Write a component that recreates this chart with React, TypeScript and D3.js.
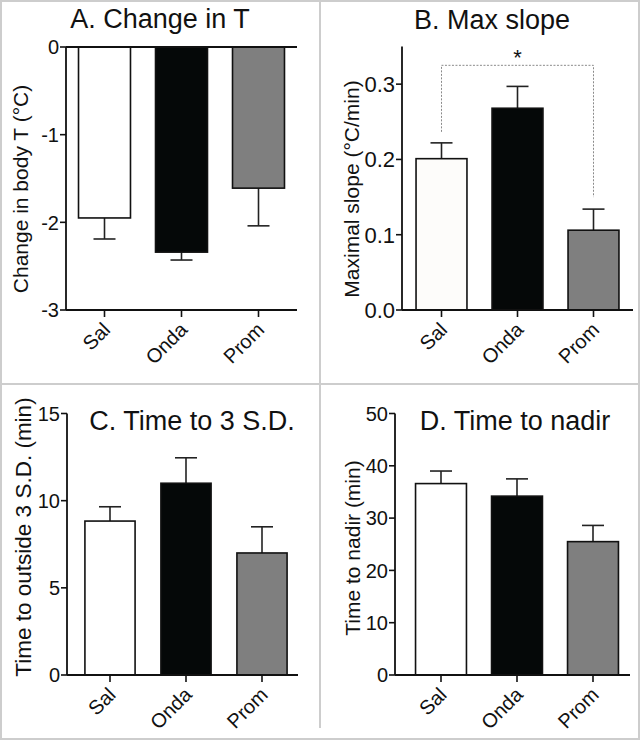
import * as d3 from 'd3';

// ── Data ────────────────────────────────────────────────
const groups = ['Sal', 'Onda', 'Prom'];
const fills = ['#ffffff', '#050808', '#7f7f7f'];

const changeT = [-1.95, -2.34, -1.61];
const changeTErr = [0.24, 0.09, 0.43];

const maxSlope = [0.201, 0.268, 0.106];
const maxSlopeErr = [0.021, 0.029, 0.028];

const time3SD = [8.83, 11.0, 7.0];
const time3SDErr = [0.82, 1.46, 1.5];

const timeNadir = [36.6, 34.2, 25.5];
const timeNadirErr = [2.4, 3.3, 3.1];

const ticksA = [0, -1, -2, -3];
const ticksB = [0, 0.1, 0.2, 0.3];
const ticksC = [0, 5, 10, 15];
const ticksD = [0, 10, 20, 30, 40, 50];

const FONT = '"Liberation Sans", Arial, Helvetica, sans-serif';

interface PanelProps {
  title: string;
  titleX: number;
  titleY: number;
  yLabel: string;
  yLabelX: number;
  yLabelY: number;
  yLabelSize: number;
  values: number[];
  errors: number[];
  domain: [number, number];
  yRange: [number, number];
  ticks: number[];
  tickFmt: (d: number) => string;
  tickSize: number;
  axisX: number;
  axisEnd: number;
  band: [number, number];
  padInner: number;
  zeroLine?: boolean;
  sig?: boolean;
}

function Panel(p: PanelProps) {
  const y = d3.scaleLinear().domain(p.domain).range(p.yRange);
  const x = d3.scaleBand<string>().domain(groups).range(p.band)
    .paddingInner(p.padInner).paddingOuter(p.padInner / 2);
  const bottom = p.yRange[0];
  const top = p.yRange[1];
  const y0 = y(0);
  const bw = x.bandwidth();
  const cap = 11;

  return (
    <g fontFamily={FONT} fill="#111">
      <text x={p.titleX} y={p.titleY} fontSize={27} textAnchor="middle">{p.title}</text>
      <text transform={`translate(${p.yLabelX},${p.yLabelY}) rotate(-90)`} fontSize={p.yLabelSize} textAnchor="middle">{p.yLabel}</text>

      {/* bars */}
      {groups.map((g, i) => {
        const v = p.values[i];
        const e = p.errors[i];
        const cx = x(g)! + bw / 2;
        const yv = y(v);
        const ye = y(v < 0 ? v - e : v + e);
        return (
          <g key={g}>
            <line x1={cx} x2={cx} y1={yv} y2={ye} stroke="#222" strokeWidth={1.6} />
            <line x1={cx - cap} x2={cx + cap} y1={ye} y2={ye} stroke="#222" strokeWidth={1.6} />
            <rect x={x(g)!} y={Math.min(yv, y0)} width={bw} height={Math.abs(yv - y0)}
              fill={p.sig && i === 0 ? '#fdfcfa' : fills[i]} stroke="#111" strokeWidth={1.6} />
          </g>
        );
      })}

      {/* y axis */}
      <line x1={p.axisX} x2={p.axisX} y1={top} y2={bottom} stroke="#111" strokeWidth={1.8} />
      {p.ticks.map(t => (
        <g key={t}>
          <line x1={p.axisX - 6} x2={p.axisX} y1={y(t)} y2={y(t)} stroke="#111" strokeWidth={1.6} />
          <text x={p.axisX - 7} y={y(t)} dy="0.36em" fontSize={p.tickSize} textAnchor="end">{p.tickFmt(t)}</text>
        </g>
      ))}

      {/* x axis */}
      <line x1={p.axisX} x2={p.axisEnd} y1={bottom} y2={bottom} stroke="#111" strokeWidth={1.8} />
      {p.zeroLine && (
        <line x1={p.axisX} x2={p.axisEnd} y1={y0} y2={y0} stroke="#111" strokeWidth={1.8} />
      )}
      {groups.map(g => {
        const cx = x(g)! + bw / 2;
        return (
          <g key={g}>
            <line x1={cx} x2={cx} y1={bottom} y2={bottom + 7} stroke="#111" strokeWidth={1.6} />
            <text transform={`translate(${cx + 7},${bottom + 21}) rotate(-45)`} fontSize={20} textAnchor="end">{g}</text>
          </g>
        );
      })}

      {/* significance bracket */}
      {p.sig && (() => {
        const xa = x(groups[0])! + bw / 2;
        const xb = x(groups[2])! + bw / 2;
        const yb = y(0.325);
        return (
          <g>
            <path d={`M${xa},${y(p.values[0] + p.errors[0]) - 11}V${yb}H${xb}V${y(p.values[2] + p.errors[2]) - 12}`}
              fill="none" stroke="#8a8a8a" strokeWidth={1} strokeDasharray="2,1.5" />
            <text x={(xa + xb) / 2} y={yb} fontSize={22} textAnchor="middle">*</text>
          </g>
        );
      })()}
    </g>
  );
}

export default function App() {
  return (
    <div style={{ position: 'absolute', left: 0, top: 0 }}>
      <svg width={640} height={740} style={{ display: 'block', background: '#fff' }}>
        <rect x={1} y={1} width={638} height={738} fill="#fff" stroke="#cdcdcd" strokeWidth={2} />
        <line x1={320} x2={320} y1={0} y2={728} stroke="#cdcdcd" strokeWidth={2} />
        <line x1={0} x2={640} y1={384} y2={384} stroke="#cdcdcd" strokeWidth={2} />

        <Panel title="A. Change in T" titleX={160} titleY={28}
          yLabel="Change in body T (°C)" yLabelX={28} yLabelY={189} yLabelSize={21}
          values={changeT} errors={changeTErr} domain={[-3, 0]} yRange={[310, 47]}
          ticks={ticksA} tickFmt={d => d3.format('d')(d).replace('−', '-')} tickSize={20}
          axisX={66} axisEnd={297} band={[66, 297]} padInner={0.325} zeroLine />

        <Panel title="B. Max slope" titleX={492} titleY={29}
          yLabel="Maximal slope (°C/min)" yLabelX={359} yLabelY={189} yLabelSize={21}
          values={maxSlope} errors={maxSlopeErr} domain={[0, 0.35]} yRange={[310, 46.5]}
          ticks={ticksB} tickFmt={d => d3.format('.1f')(d)} tickSize={22}
          axisX={402} axisEnd={633} band={[403.5, 631.5]} padInner={0.33} sig />

        <Panel title="C. Time to 3 S.D." titleX={192} titleY={430}
          yLabel="Time to outside 3 S.D. (min)" yLabelX={31} yLabelY={537} yLabelSize={22.5}
          values={time3SD} errors={time3SDErr} domain={[0, 15]} yRange={[675, 413.5]}
          ticks={ticksC} tickFmt={d => String(d)} tickSize={20}
          axisX={67} axisEnd={298} band={[72, 300]} padInner={0.34} />

        <Panel title="D. Time to nadir" titleX={515} titleY={430}
          yLabel="Time to nadir (min)" yLabelX={360} yLabelY={548} yLabelSize={21}
          values={timeNadir} errors={timeNadirErr} domain={[0, 50]} yRange={[675, 413.5]}
          ticks={ticksD} tickFmt={d => String(d)} tickSize={20}
          axisX={395} axisEnd={630} band={[403, 631]} padInner={0.33} />
      </svg>
    </div>
  );
}
